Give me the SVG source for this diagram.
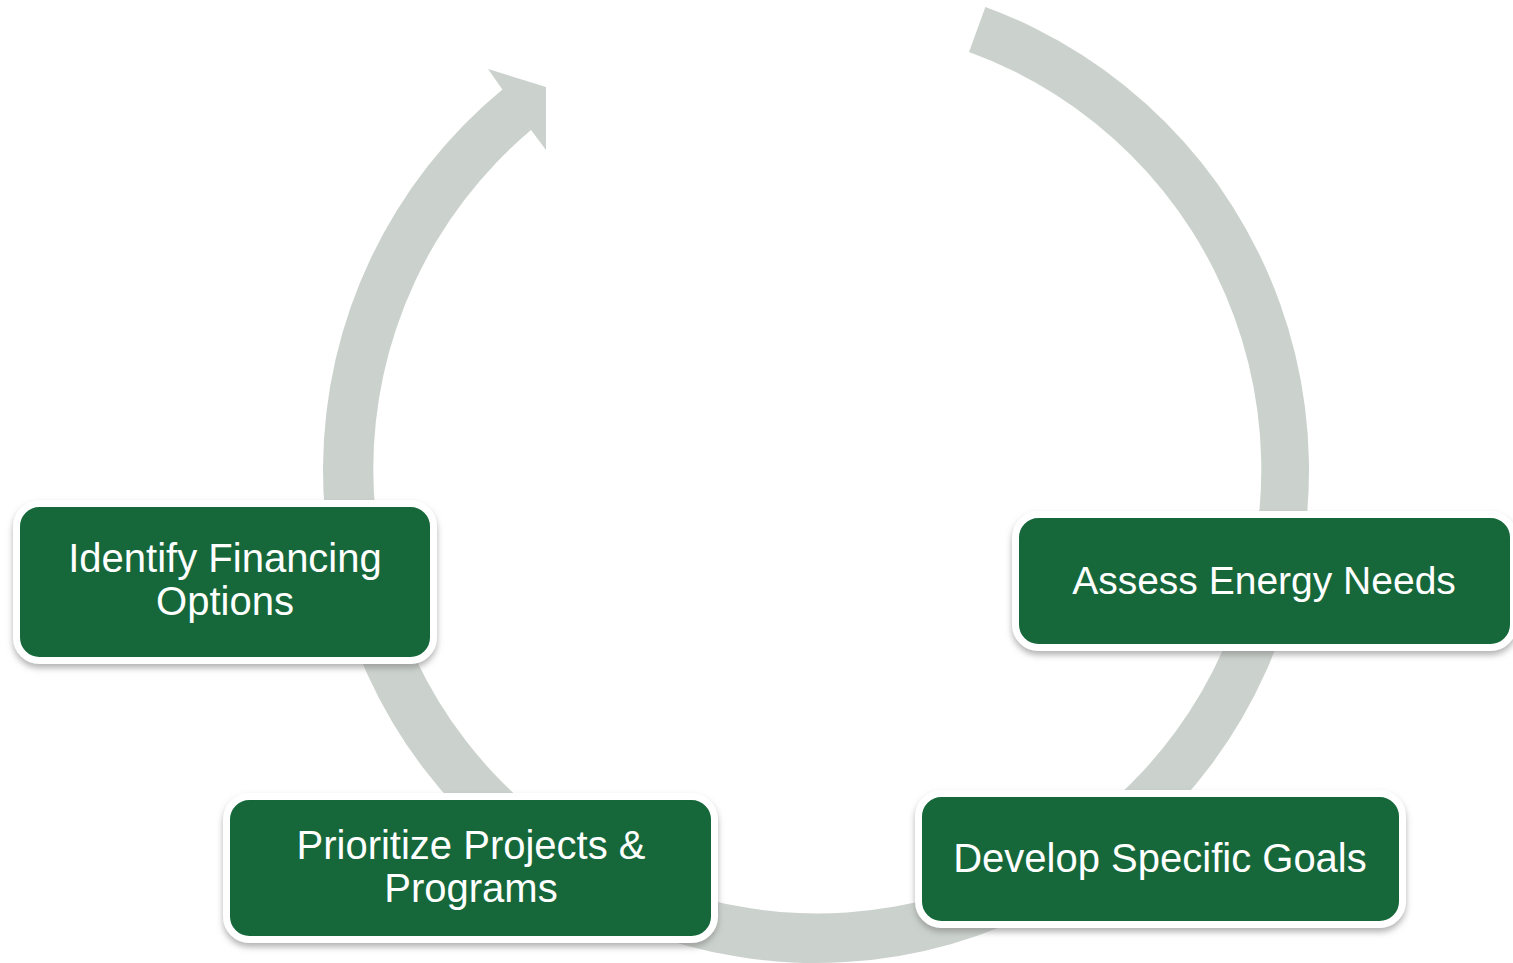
<svg xmlns="http://www.w3.org/2000/svg" width="1513" height="963" viewBox="0 0 1513 963">
<defs>
<style>
.box{fill:#12683A;stroke:#FFFFFF;stroke-width:7;filter:url(#sh)}
.lbl{font-family:"Liberation Sans",Arial,sans-serif;font-size:40px;fill:#FFFFFF;text-anchor:middle}
.ring{fill:#CBD2CD}
</style>
<filter id="sh" x="-10%" y="-20%" width="120%" height="150%">
<feDropShadow dx="0" dy="4" stdDeviation="3" flood-color="#808080" flood-opacity="0.6"/>
</filter>
</defs>
<rect width="1513" height="963" fill="#FFFFFF"/>
<g id="connectors">
<path class="ring" d="M985.4,7 A493,493 0 1 1 502.4,89.6 L488,69 L546,87 L546,150 L531,130 A444,444 0 1 0 969,52.1 Z"/>
</g>
<g id="node-financing">
<rect class="box" x="16.5" y="503.5" width="417" height="157" rx="23"/>
<text class="lbl" x="225" y="572">Identify Financing</text>
<text class="lbl" x="225" y="615">Options</text>
</g>
<g id="node-assess">
<rect class="box" x="1015.5" y="514.5" width="498" height="133" rx="23"/>
<text class="lbl" x="1264" y="594" style="font-size:39px">Assess Energy Needs</text>
</g>
<g id="node-prioritize">
<rect class="box" x="226.5" y="796.5" width="488" height="143" rx="23"/>
<text class="lbl" x="471" y="859">Prioritize Projects &amp;</text>
<text class="lbl" x="471" y="902">Programs</text>
</g>
<g id="node-develop">
<rect class="box" x="918.5" y="793.5" width="484" height="131" rx="23"/>
<text class="lbl" x="1160" y="872">Develop Specific Goals</text>
</g>
</svg>
